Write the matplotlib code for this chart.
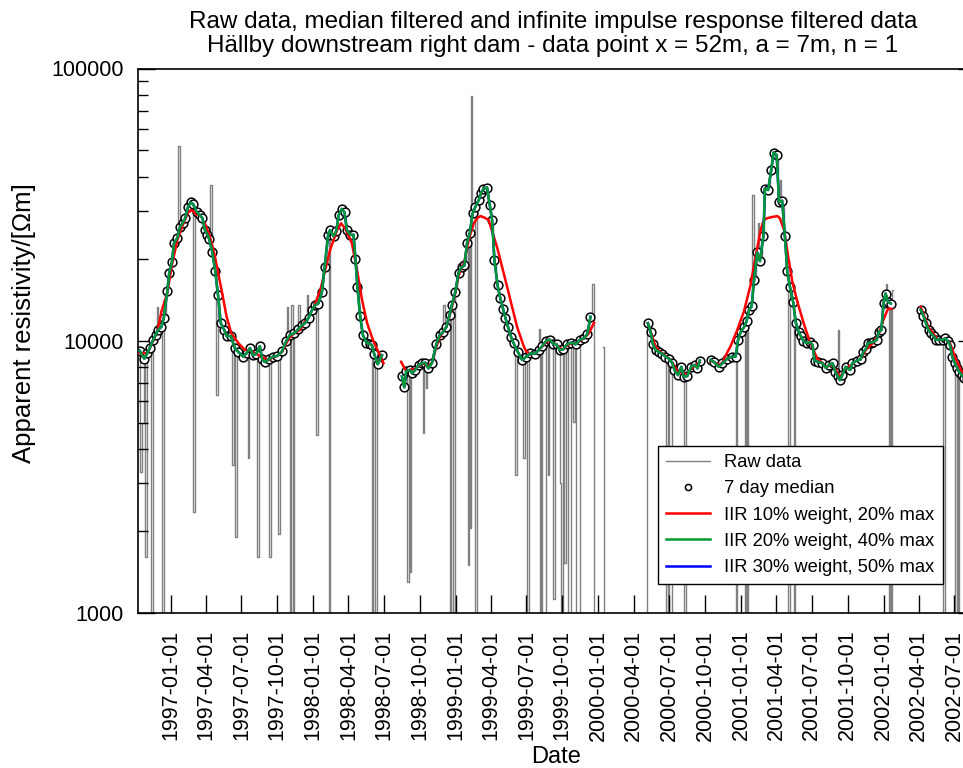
import numpy as np
import pandas as pd
import matplotlib
matplotlib.use("Agg")
import matplotlib.pyplot as plt
from matplotlib.ticker import FixedLocator, NullFormatter, FuncFormatter, LogLocator

plt.rcParams['font.family'] = ['Liberation Sans', 'DejaVu Sans']

# ---------------- data (days counted from 1997-01-01) ----------------
REF_DATE = "1997-01-01"

median_days = [
    -80, -68, -60, -54, -45, -39, -33, -24, -18, -9,
    -4, 3, 8, 17, 23, 30, 37, 44, 51, 57,
    66, 74, 81, 87, 94, 98, 106, 114, 121, 128,
    137, 143, 154, 164, 173, 185, 194, 203, 211, 219,
    228, 234, 241, 251, 262, 273, 285, 296, 305, 316,
    326, 337, 344, 353, 362, 370, 378, 387, 394, 403,
    408, 417, 424, 430, 438, 445, 451, 460, 468, 473,
    478, 485, 492, 501, 511, 515, 521, 530, 541,
    592, 598, 603, 612, 618, 626, 635, 644, 652, 660,
    669, 680, 689, 697, 706, 714, 720, 729, 737, 746,
    752, 759, 766, 773, 780, 789, 795, 801, 810, 817,
    823, 829, 837, 844, 851, 857, 864, 872, 878, 889,
    900, 911, 921, 932, 943, 951, 962, 971, 979, 988,
    996, 1005, 1015, 1026, 1037, 1048, 1058, 1067, 1075,
    1222, 1229, 1235, 1242, 1250, 1259, 1267, 1276, 1285, 1290,
    1299, 1308, 1314, 1323, 1333, 1342, 1349, 1355, 1383, 1391,
    1404, 1413, 1426, 1438, 1447, 1453, 1460, 1468, 1475, 1481,
    1488, 1494, 1502, 1509, 1518, 1522, 1530, 1538, 1544, 1552,
    1558, 1566, 1573, 1579, 1586, 1594, 1601, 1608, 1614, 1620,
    1629, 1637, 1644, 1649, 1658, 1669, 1678, 1686, 1695, 1702,
    1708, 1714, 1720, 1729, 1740, 1746, 1757, 1767, 1774, 1780,
    1786, 1793, 1800, 1808, 1814, 1820, 1826, 1831, 1837, 1844,
    1921, 1928, 1934, 1941, 1947, 1954, 1960, 1968, 1977, 1983,
    1990, 1996, 2002, 2008, 2015, 2019, 2026, 2032, 2040,
]
median_values = [
    9200, 8600, 9000, 9400, 10100, 10500, 10950, 11250, 12100, 15200,
    17800, 19500, 22800, 23900, 26100, 27000, 28200, 31000, 32200, 31800,
    29800, 29000, 28200, 25600, 24500, 23700, 21200, 18000, 14700, 11600,
    10950, 10400, 10400, 9400, 9100, 8750, 9000, 9400, 8850, 8950,
    9550, 8550, 8350, 8550, 8750, 8800, 9150, 10000, 10500, 10650,
    11000, 11450, 11600, 12150, 12970, 13530, 13700, 15050, 18600, 24450,
    25500, 24200, 25350, 28950, 30500, 29600, 25500, 24500, 24500, 19950,
    15800, 12300, 10500, 9850, 9700, 9650, 8950, 8200, 8850,
    7400, 6750, 7720, 7810, 7600, 7810, 8150, 8270, 8300, 7920,
    8300, 9700, 10500, 10750, 11250, 12440, 13530, 15150, 17800, 18700,
    18900, 22950, 24950, 29350, 31000, 32900, 34900, 36200, 36550, 31500,
    27800, 19800, 16000, 14300, 13100, 12150, 11200, 10300, 9800, 9100,
    8500, 8750, 9000, 8950, 9250, 9550, 10000, 10100, 9750, 9700,
    9250, 9300, 9700, 9850, 9700, 10100, 10200, 10600, 12250,
    11600, 10800, 9700, 9250, 9100, 8950, 8750, 8600, 8270, 7810,
    7480, 8020, 7380, 7420, 8020, 8150, 7920, 8450, 8500, 8370,
    8020, 8270, 8600, 8750, 8750, 10060, 10800, 11200, 11800, 12970,
    13400, 16700, 21100, 19600, 24250, 36200, 35800, 42400, 49100, 48100,
    32400, 32700, 24250, 18000, 15800, 13900, 11650, 10800, 10400, 10000,
    9800, 9900, 9650, 8450, 8370, 8270, 7950, 8150, 8270, 7700,
    7420, 7170, 7480, 8020, 7810, 8270, 8450, 8550, 9100, 9300,
    9800, 9850, 9900, 10060, 10800, 10950, 13800, 14900, 13900, 13700,
    13000, 12350, 11650, 10950, 10650, 10400, 10100, 10100, 10060, 10200,
    10000, 9650, 8700, 8300, 7920, 7700, 7480, 7300, 7200,
]

# IIR 10 % weight, 20 % max (red)
iir10_days = [
    -80, -60, -45, -33, -24, -9, 3, 17, 30, 44,
    51, 57, 66, 87, 100, 113, 130, 143, 155, 173,
    190, 203, 219, 234, 251, 262, 273, 285, 296, 305,
    316, 331, 344, 366, 383, 396, 408, 426, 436, 447,
    464, 477, 490, 503, 519, 536, 545,
    590, 603, 612, 626, 644, 660, 669, 680, 689, 697,
    706, 714, 720, 729, 737, 746, 752, 763, 776, 785,
    793, 802, 814, 827, 836, 853, 870, 887, 904, 911,
    921, 932, 943, 951, 962, 971, 979, 988, 996, 1005,
    1015, 1026, 1037, 1048, 1058, 1071, 1084,
    1222, 1233, 1242, 1250, 1259, 1267, 1276, 1285, 1299, 1314,
    1323, 1333, 1342, 1355, 1383, 1391, 1404, 1413, 1426, 1434,
    1451, 1468, 1485, 1498, 1511, 1519, 1528, 1541, 1554, 1560,
    1571, 1580, 1592, 1605, 1622, 1637, 1656, 1669, 1678, 1695,
    1708, 1714, 1729, 1746, 1767, 1780, 1800, 1814, 1826, 1837,
    1846,
    1921, 1941, 1960, 1983, 1996, 2009, 2026, 2040,
]
iir10_values = [
    9000, 9000, 10000, 11000, 12800, 15000, 19000, 23500, 26500, 29500,
    30200, 30000, 29000, 27000, 24200, 20400, 15350, 12250, 10650, 9800,
    9250, 9200, 8950, 8700, 8500, 8700, 8800, 9100, 9800, 10300,
    10650, 10950, 11800, 13250, 15350, 18300, 21550, 25500, 27000, 25800,
    22800, 18200, 14100, 11600, 9950, 8850, 8270,
    8370, 7720, 7810, 7900, 8270, 8100, 8300, 9500, 10300, 10750,
    11250, 12300, 13300, 15000, 17300, 18700, 19500, 23440, 27000, 28200,
    28700, 28400, 27800, 24200, 22000, 17650, 14100, 11250, 9550, 9100,
    9000, 8950, 9250, 9500, 9900, 10000, 9800, 9700, 9400, 9300,
    9600, 9800, 9750, 10000, 10200, 10650, 11650,
    11600, 10400, 9500, 9200, 9000, 8800, 8600, 8300, 7700, 7600,
    7500, 7900, 8100, 8350, 8450, 8350, 8150, 8300, 9100, 9550,
    10950, 12800, 16000, 20400, 25500, 27800, 28200, 28500, 28700, 28200,
    25500, 21000, 16500, 13900, 11500, 9900, 8600, 8300, 8000, 8200,
    7600, 7350, 7900, 8200, 8550, 9250, 9850, 10600, 12000, 13100,
    13100,
    13300, 11200, 10300, 10200, 9800, 8700, 7700, 7300,
]

# IIR 20 %/40 % (green) and 30 %/50 % (blue) coincide with the median in the picture
iir20_values = list(median_values)
iir30_values = list(median_values)

# Raw data: isolated daily outliers (spikes); the rest of the raw series lies on the median
raw_spike_days = [
    -76, -71, -63, -48, -34, -19, 22, 58, 105, 119,
    160, 167, 199, 223, 253, 276, 298, 306, 311, 314,
    326, 352, 374, 407, 515, 524,
    608, 615, 646, 653, 699, 715, 726, 762, 767, 772,
    781, 887, 903, 912, 944, 947, 952, 958, 968, 980,
    998, 1003, 1011, 1019, 1025, 1032, 1039, 1047, 1084, 1086,
    1108, 1110,
    1220, 1270, 1278, 1282, 1315, 1450, 1472, 1478, 1492, 1505,
    1562, 1584, 1598, 1709, 1832, 1840, 1845, 1850,
    1981, 2011, 2017,
]
raw_spike_values = [
    3300, 5000, 1600, 500, 13300, 500, 52000, 2350, 37300, 6300,
    3500, 1900, 3700, 1600, 1600, 1950, 13300, 500, 13500, 500,
    13500, 14700, 4500, 500, 500, 500,
    1300, 1420, 4600, 6700, 13500, 500, 500, 1500, 2050, 79000,
    500, 3200, 3700, 500, 11000, 500, 500, 500, 3200, 1130,
    3000, 500, 1520, 500, 500, 5030, 500, 500, 16200, 500,
    9500, 500,
    500, 500, 500, 500, 500, 500, 500, 500, 34300, 27000,
    39000, 500, 500, 10950, 16200, 500, 500, 15300,
    500, 500, 500,
]

tick_labels = [
    "1997-01-01", "1997-04-01", "1997-07-01", "1997-10-01",
    "1998-01-01", "1998-04-01", "1998-07-01", "1998-10-01",
    "1999-01-01", "1999-04-01", "1999-07-01", "1999-10-01",
    "2000-01-01", "2000-04-01", "2000-07-01", "2000-10-01",
    "2001-01-01", "2001-04-01", "2001-07-01", "2001-10-01",
    "2002-01-01", "2002-04-01", "2002-07-01",
]
x_limits = ["1996-10-09", "2002-08-23"]
y_ticks = [1000, 10000, 100000]

title = ("Raw data, median filtered and infinite impulse response filtered data\n"
         "Hällby downstream right dam - data point x = 52m, a = 7m, n = 1")


# ---------------- helpers ----------------
def to_dates(days):
    return pd.Timestamp(REF_DATE) + pd.to_timedelta(np.asarray(days, dtype=float), unit="D")


def with_gaps(days, values, max_gap=20):
    """Break the line (NaN) where consecutive samples are more than max_gap days apart."""
    d = np.asarray(days, dtype=float)
    v = np.asarray(values, dtype=float)
    order = np.argsort(d, kind="stable")
    d, v = d[order], v[order]
    out_d, out_v = [d[0]], [v[0]]
    for i in range(1, len(d)):
        if d[i] - d[i - 1] > max_gap:
            out_d += [d[i - 1] + 0.01, d[i] - 0.01]
            out_v += [np.nan, np.nan]
        out_d.append(d[i])
        out_v.append(v[i])
    return to_dates(out_d), np.array(out_v)


# ---------------- figure ----------------
fig = plt.figure(figsize=(9.63, 7.68), dpi=100)
ax = fig.add_axes([138 / 963, 1 - 613 / 768, (975 - 138) / 963, (613 - 68.5) / 768])

raw_d, raw_v = with_gaps(list(median_days) + raw_spike_days,
                         list(median_values) + raw_spike_values)
med_d, med_v = with_gaps(median_days, median_values)
r_d, r_v = with_gaps(iir10_days, iir10_values)
g_d, g_v = with_gaps(median_days, iir20_values)
b_d, b_v = with_gaps(median_days, iir30_values)

h_raw, = ax.plot(raw_d, raw_v, color="#808080", lw=1.0, drawstyle="steps-mid",
                 zorder=1, label="Raw data")
h_med, = ax.plot(med_d, med_v, ls="none", marker="o", ms=6.3, mfc="white",
                 mec="black", mew=1.1, zorder=2, label="7 day median")
h_red, = ax.plot(r_d, r_v, color="#ff0000", lw=1.8, zorder=3,
                 label="IIR 10% weight, 20% max")
h_blue, = ax.plot(b_d, b_v, color="#0000ff", lw=1.8, zorder=4,
                  label="IIR 30% weight, 50% max")
h_green, = ax.plot(g_d, g_v, color="#009933", lw=1.8, zorder=5,
                   label="IIR 20% weight, 40% max")

ax.set_yscale("log")
ax.set_ylim(1000, 100000)
ax.set_xlim(pd.Timestamp(x_limits[0]), pd.Timestamp(x_limits[1]))

ax.yaxis.set_major_locator(FixedLocator(y_ticks))
ax.yaxis.set_major_formatter(FuncFormatter(lambda v, p: f"{int(round(v))}"))
ax.yaxis.set_minor_locator(LogLocator(base=10, subs=np.arange(2, 10)))
ax.yaxis.set_minor_formatter(NullFormatter())

ax.set_xticks(pd.to_datetime(tick_labels))
ax.set_xticklabels(tick_labels, rotation=90, fontsize=15.5)
ax.tick_params(axis="x", which="major", direction="in", length=13, width=1,
               top=False, pad=12)
ax.tick_params(axis="x", which="minor", bottom=False, top=False)
ax.tick_params(axis="y", which="major", direction="in", length=12, width=1,
               right=True, labelsize=15.5, pad=10)
ax.tick_params(axis="y", which="minor", direction="in", length=7, width=1,
               right=False)

for s in ax.spines.values():
    s.set_linewidth(1.2)

ax.set_ylabel("Apparent resistivity/[\u03a9m]", fontsize=18.5)
ax.yaxis.set_label_coords((36 - 138) / 837, (613 - 323) / 544.5)
ax.set_xlabel("Date", fontsize=17, labelpad=4)

fig.text(553 / 963, 1 - 34 / 768, title, ha="center", va="center",
         fontsize=17.5, linespacing=1.1)

leg = ax.legend(handles=[h_raw, h_med, h_red, h_green, h_blue],
                labels=["Raw data", "7 day median", "IIR 10% weight, 20% max",
                        "IIR 20% weight, 40% max", "IIR 30% weight, 50% max"],
                loc="upper left", bbox_to_anchor=(658 / 963, 1 - 446 / 768),
                bbox_transform=fig.transFigure, borderaxespad=0,
                fontsize=13.2, frameon=True, fancybox=False, framealpha=1,
                edgecolor="black", markerscale=0.7, handlelength=2.4,
                handletextpad=0.75, labelspacing=0.5, borderpad=0.45)
leg.get_frame().set_linewidth(1.0)
leg.set_zorder(10)

fig.savefig("out.png", dpi=100)
